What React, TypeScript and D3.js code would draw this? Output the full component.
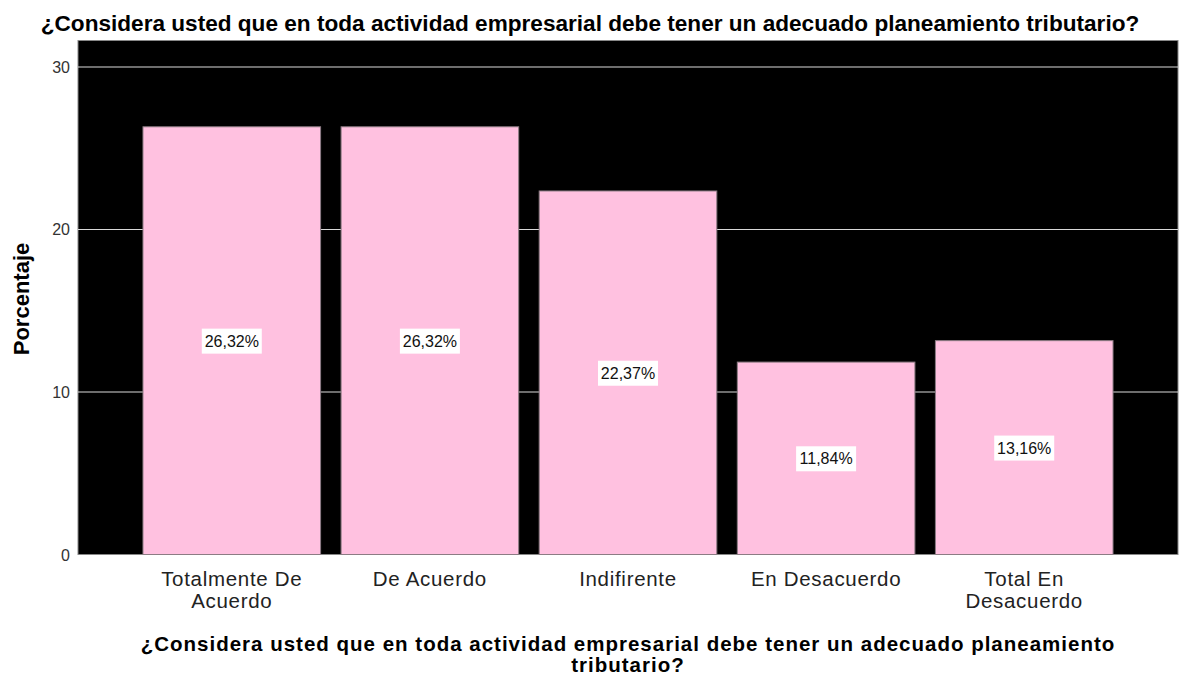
import React from "react";
import * as d3 from "d3";

const categories = [
  ["Totalmente De", "Acuerdo"],
  ["De Acuerdo"],
  ["Indifirente"],
  ["En Desacuerdo"],
  ["Total En", "Desacuerdo"],
];
const values = [26.32, 26.32, 22.37, 11.84, 13.16];
const yTicks = [0, 10, 20, 30];
const title = "¿Considera usted que en toda actividad empresarial debe tener un adecuado planeamiento tributario?";
const xTitleLines = [
  "¿Considera usted que en toda actividad empresarial debe tener un adecuado planeamiento",
  "tributario?",
];
const yTitle = "Porcentaje";

const W = 1179;
const H = 677;
const plot = { left: 78, right: 1178, top: 40.5, bottom: 554.5 };

export default function App() {
  const y = d3.scaleLinear().domain([0, 31.63]).range([plot.bottom, plot.top]);
  const x = d3
    .scaleBand<number>()
    .domain(values.map((_, i) => i))
    .range([plot.left, plot.right])
    .paddingInner(0.1035)
    .paddingOuter(0.328);
  const font = "'Liberation Sans', Arial, sans-serif";
  const fmt = (v: number) => v.toFixed(2).replace(".", ",") + "%";
  return (
    <svg
      width={W}
      height={H}
      style={{ position: "absolute", left: 0, top: 0, fontFamily: font }}
    >
      <rect x={0} y={0} width={W} height={H} fill="#fff" />
      <text x={590} y={31} textAnchor="middle" fontWeight="bold" fontSize={22.6} fill="#000">
        {title}
      </text>
      <rect
        x={plot.left}
        y={plot.top}
        width={plot.right - plot.left}
        height={plot.bottom - plot.top}
        fill="#000"
        stroke="#888"
        strokeWidth={1}
      />
      {yTicks.map((t) => (
        <g key={t}>
          {t > 0 && (
            <line x1={plot.left} x2={plot.right} y1={y(t)} y2={y(t)} stroke="#d9d9d9" strokeWidth={1.2} />
          )}
          <text x={70} y={y(t) + 6} textAnchor="end" fontSize={16} fill="#333">
            {t}
          </text>
        </g>
      ))}
      {values.map((v, i) => {
        const bx = x(i)!;
        const bw = x.bandwidth();
        const top = y(v);
        const cy = (top + y(0)) / 2;
        return (
          <g key={i}>
            <rect x={bx} y={top} width={bw} height={y(0) - top} fill="#ffc1e0" stroke="#8c7c84" strokeWidth={1} />
            <rect x={bx + bw / 2 - 30} y={cy - 12} width={60} height={25} fill="#fff" />
            <text x={bx + bw / 2} y={cy + 6} textAnchor="middle" fontSize={16} fill="#111">
              {fmt(v)}
            </text>
            {categories[i].map((line, j) => (
              <text
                key={j}
                x={bx + bw / 2}
                y={586 + j * 22}
                textAnchor="middle"
                fontSize={20.5}
                letterSpacing={0.7}
                fill="#222"
              >
                {line}
              </text>
            ))}
          </g>
        );
      })}
      <text
        transform={`translate(29, 299) rotate(-90)`}
        textAnchor="middle"
        fontWeight="bold"
        fontSize={22}
        fill="#000"
      >
        {yTitle}
      </text>
      {xTitleLines.map((l, i) => (
        <text
          key={i}
          x={628}
          y={651 + i * 21}
          textAnchor="middle"
          fontWeight="bold"
          fontSize={20.5}
          letterSpacing={1.0}
          fill="#000"
        >
          {l}
        </text>
      ))}
    </svg>
  );
}
